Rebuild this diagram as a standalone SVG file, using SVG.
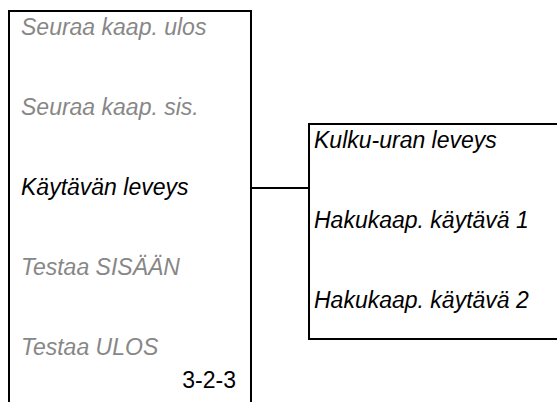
<svg xmlns="http://www.w3.org/2000/svg" width="557" height="402" viewBox="0 0 557 402">
<style>
.t{font-family:"Liberation Sans",Arial,sans-serif;font-size:23px;font-style:italic}
.g{fill:#878787}
.k{fill:#000}
.n{font-family:"Liberation Sans",Arial,sans-serif;font-size:23px;fill:#000}
.b{fill:none;stroke:#000;stroke-width:2}
</style>
<rect width="557" height="402" fill="#fff"/>
<g id="menu">
<path class="b" d="M9,403 V11 H251 V403"/>
<text class="t g" x="21" y="35">Seuraa kaap. ulos</text>
<text class="t g" x="21" y="115">Seuraa kaap. sis.</text>
<text class="t k" x="21" y="195">Käytävän leveys</text>
<text class="t g" x="21" y="275">Testaa SISÄÄN</text>
<text class="t g" x="21" y="355">Testaa ULOS</text>
<text class="n" x="236" y="388" text-anchor="end">3-2-3</text>
</g>
<g id="submenu">
<path class="b" d="M558,124 H309 V339 H558"/>
<text class="t k" x="314" y="148">Kulku-uran leveys</text>
<text class="t k" x="314" y="228">Hakukaap. käytävä 1</text>
<text class="t k" x="314" y="308">Hakukaap. käytävä 2</text>
</g>
<g id="connectors">
<line class="b" x1="251" y1="188" x2="309" y2="188"/>
</g>
</svg>
